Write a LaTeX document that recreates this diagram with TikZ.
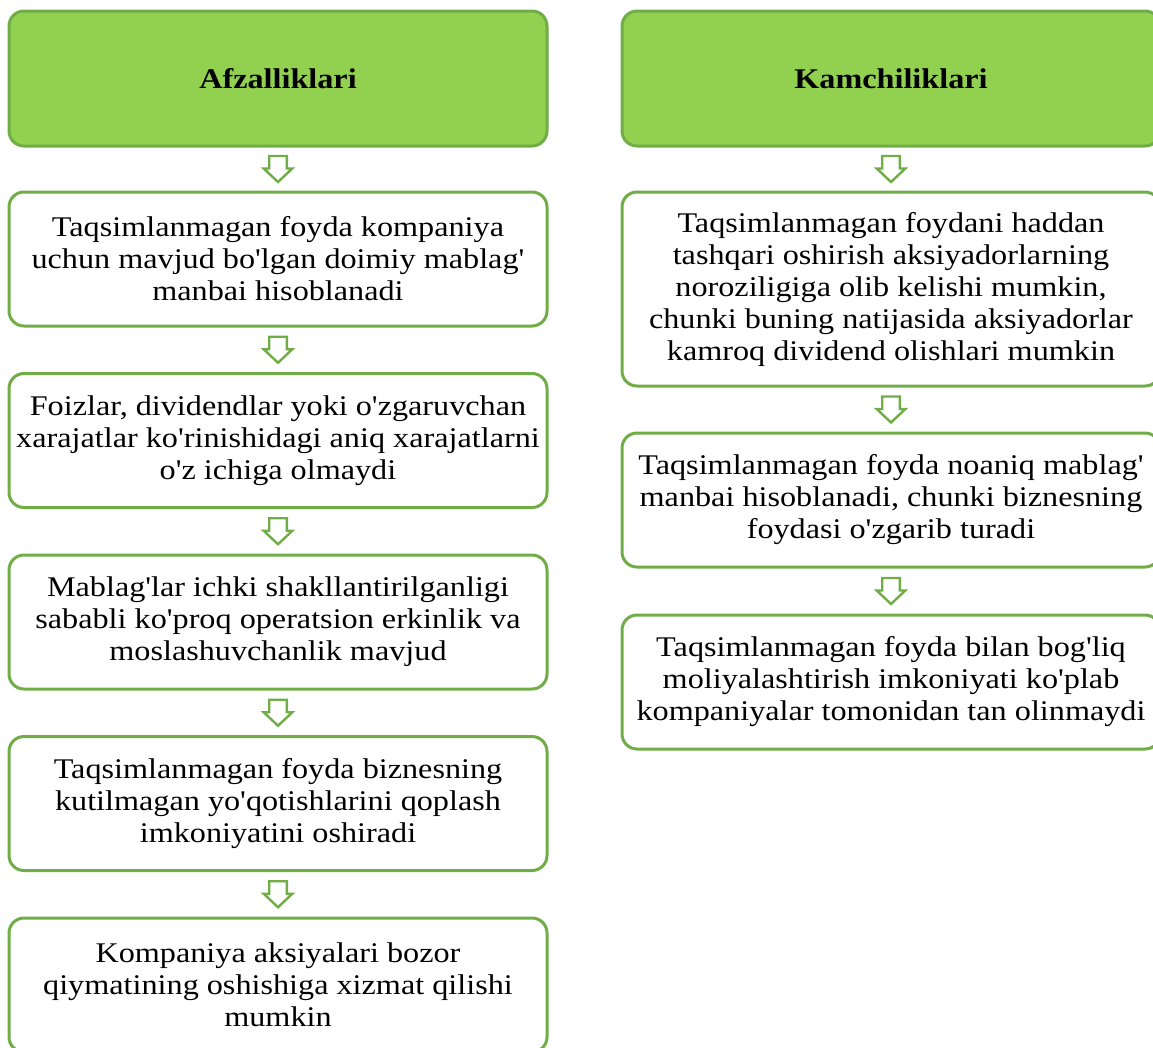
\documentclass[tikz,border=0pt]{standalone}
\usepackage{fontspec}
\setmainfont{Liberation Serif}[Ligatures=TeXOff, FakeStretch=1.13]
\usetikzlibrary{calc}
\definecolor{leafgreen}{HTML}{92D050}
\definecolor{edgegreen}{HTML}{70AD47}
\tikzset{
  txtbox/.style={draw=edgegreen, line width=3pt, rounded corners=15pt, fill=white,
    minimum width=538pt, align=center, inner sep=0pt,
    font=\fontsize{28.5}{32}\selectfont},
  headbox/.style={txtbox, fill=leafgreen, minimum height=135pt,
    font=\fontsize{28.5}{32}\selectfont\bfseries},
  pics/downarrow/.style={code={
    \draw[edgegreen, line width=2.4pt, fill=white, line join=miter]
      (-8.8,-13) -- (8.8,-13) -- (8.8,-0.5) -- (14.3,-0.5) -- (0,13)
      -- (-14.3,-0.5) -- (-8.8,-0.5) -- cycle;}}
}
\begin{document}
\begin{tikzpicture}[x=1pt, y=-1pt]
\useasboundingbox (0,0) rectangle (1153,1047);

% left column: advantages
\node[headbox] (LH) at (278,78.5) {Afzalliklari};
\node[txtbox, minimum height=134pt] (L1) at (278,259) {Taqsimlanmagan foyda kompaniya\\uchun mavjud bo'lgan doimiy mablag'\\manbai hisoblanadi};
\node[txtbox, minimum height=134pt] (L2) at (278,440.5) {Foizlar, dividendlar yoki o'zgaruvchan\\xarajatlar ko'rinishidagi aniq xarajatlarni\\o'z ichiga olmaydi};
\node[txtbox, minimum height=134pt] (L3) at (278,622) {Mablag'lar ichki shakllantirilganligi\\sababli ko'proq operatsion erkinlik va\\moslashuvchanlik mavjud};
\node[txtbox, minimum height=134pt] (L4) at (278,803.5) {Taqsimlanmagan foyda biznesning\\kutilmagan yo'qotishlarini qoplash\\imkoniyatini oshiradi};
\node[txtbox, minimum height=134pt] (L5) at (278,985) {Kompaniya aksiyalari bozor\\qiymatining oshishiga xizmat qilishi\\mumkin};

% right column: drawbacks
\node[headbox] (RH) at (891,78.5) {Kamchiliklari};
\node[txtbox, minimum height=194pt] (R1) at (891,289) {Taqsimlanmagan foydani haddan\\tashqari oshirish aksiyadorlarning\\noroziligiga olib kelishi mumkin,\\chunki buning natijasida aksiyadorlar\\kamroq dividend olishlari mumkin};
\node[txtbox, minimum height=134pt] (R2) at (891,500) {Taqsimlanmagan foyda noaniq mablag'\\manbai hisoblanadi, chunki biznesning\\foydasi o'zgarib turadi};
\node[txtbox, minimum height=134pt] (R3) at (891,682) {Taqsimlanmagan foyda bilan bog'liq\\moliyalashtirish imkoniyati ko'plab\\kompaniyalar tomonidan tan olinmaydi};

% block arrows between consecutive boxes
\foreach \a/\b in {LH/L1, L1/L2, L2/L3, L3/L4, L4/L5, RH/R1, R1/R2, R2/R3}
  \pic at ($(\a.south)!0.5!(\b.north)$) {downarrow};
\end{tikzpicture}
\end{document}
